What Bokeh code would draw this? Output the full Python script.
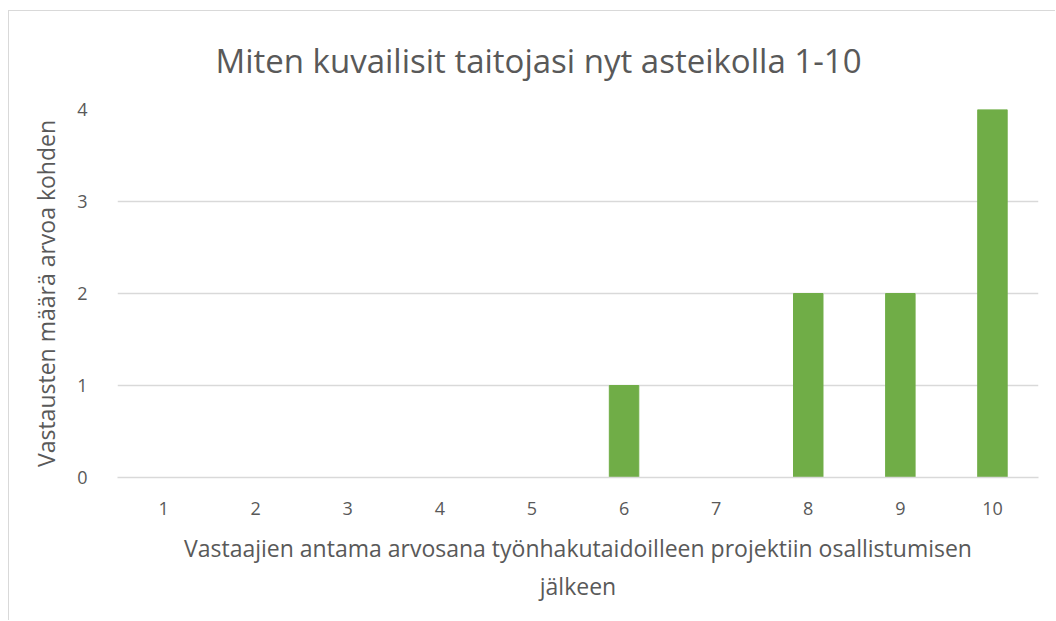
from bokeh.plotting import figure
from bokeh.models import ColumnDataSource, FactorRange, Range1d, FixedTicker
from bokeh.embed import file_html
from bokeh.resources import INLINE

categories = ["1", "2", "3", "4", "5", "6", "7", "8", "9", "10"]
counts = [0, 0, 0, 0, 0, 1, 0, 2, 2, 4]
y_ticks = [0, 1, 2, 3, 4]

title_text = "Miten kuvailisit taitojasi nyt asteikolla 1-10"
x_label = "Vastaajien antama arvosana työnhakutaidoilleen projektiin osallistumisen\njälkeen"
y_label = "Vastausten määrä arvoa kohden"

FONT = "Open Sans"
TXT = "#595959"
GRID = "#d9d9d9"

source = ColumnDataSource(data=dict(cat=categories, n=counts))

p = figure(width=1047, height=610, x_range=FactorRange(*categories, range_padding=0),
           y_range=Range1d(0, 4), output_backend="svg", toolbar_location=None,
           min_border_left=108, min_border_right=18, min_border_top=98, min_border_bottom=144)
p.styles = {"border-top": "1px solid #d9d9d9", "border-left": "1px solid #d9d9d9",
            "margin-top": "10px", "margin-left": "8px"}

p.vbar(x="cat", top="n", width=0.32, source=source, color="#70AD47")

p.title.text = title_text
p.title.align = "left"
p.title.offset = 98
p.title.vertical_align = "top"
p.title.text_font = FONT
p.title.text_font_size = "33px"
p.title.text_font_style = "normal"
p.title.text_color = TXT
p.title.standoff = 50

p.outline_line_color = None
p.xgrid.grid_line_color = None
p.ygrid.grid_line_color = GRID
p.ygrid.grid_line_width = 1.5

p.yaxis.ticker = FixedTicker(ticks=y_ticks)
p.yaxis.axis_line_color = None
p.yaxis.major_tick_line_color = None
p.yaxis.minor_tick_line_color = None
p.yaxis.major_label_standoff = 24
p.yaxis.major_label_text_font = FONT
p.yaxis.major_label_text_font_size = "18px"
p.yaxis.major_label_text_color = TXT
p.yaxis.axis_label = y_label
p.yaxis.axis_label_text_font = FONT
p.yaxis.axis_label_text_font_size = "23px"
p.yaxis.axis_label_text_font_style = "normal"
p.yaxis.axis_label_text_color = TXT
p.yaxis.axis_label_standoff = 12

p.xaxis.axis_line_color = GRID
p.xaxis.axis_line_width = 1.5
p.xaxis.major_tick_line_color = None
p.xaxis.minor_tick_line_color = None
p.xaxis.major_label_standoff = 18
p.xaxis.major_label_text_font = FONT
p.xaxis.major_label_text_font_size = "18px"
p.xaxis.major_label_text_color = TXT
p.xaxis.axis_label = x_label
p.xaxis.axis_label_text_font = FONT
p.xaxis.axis_label_text_font_size = "23px"
p.xaxis.axis_label_text_font_style = "normal"
p.xaxis.axis_label_text_color = TXT
p.xaxis.axis_label_standoff = 14

open("out.html", "w").write(file_html(p, INLINE))
